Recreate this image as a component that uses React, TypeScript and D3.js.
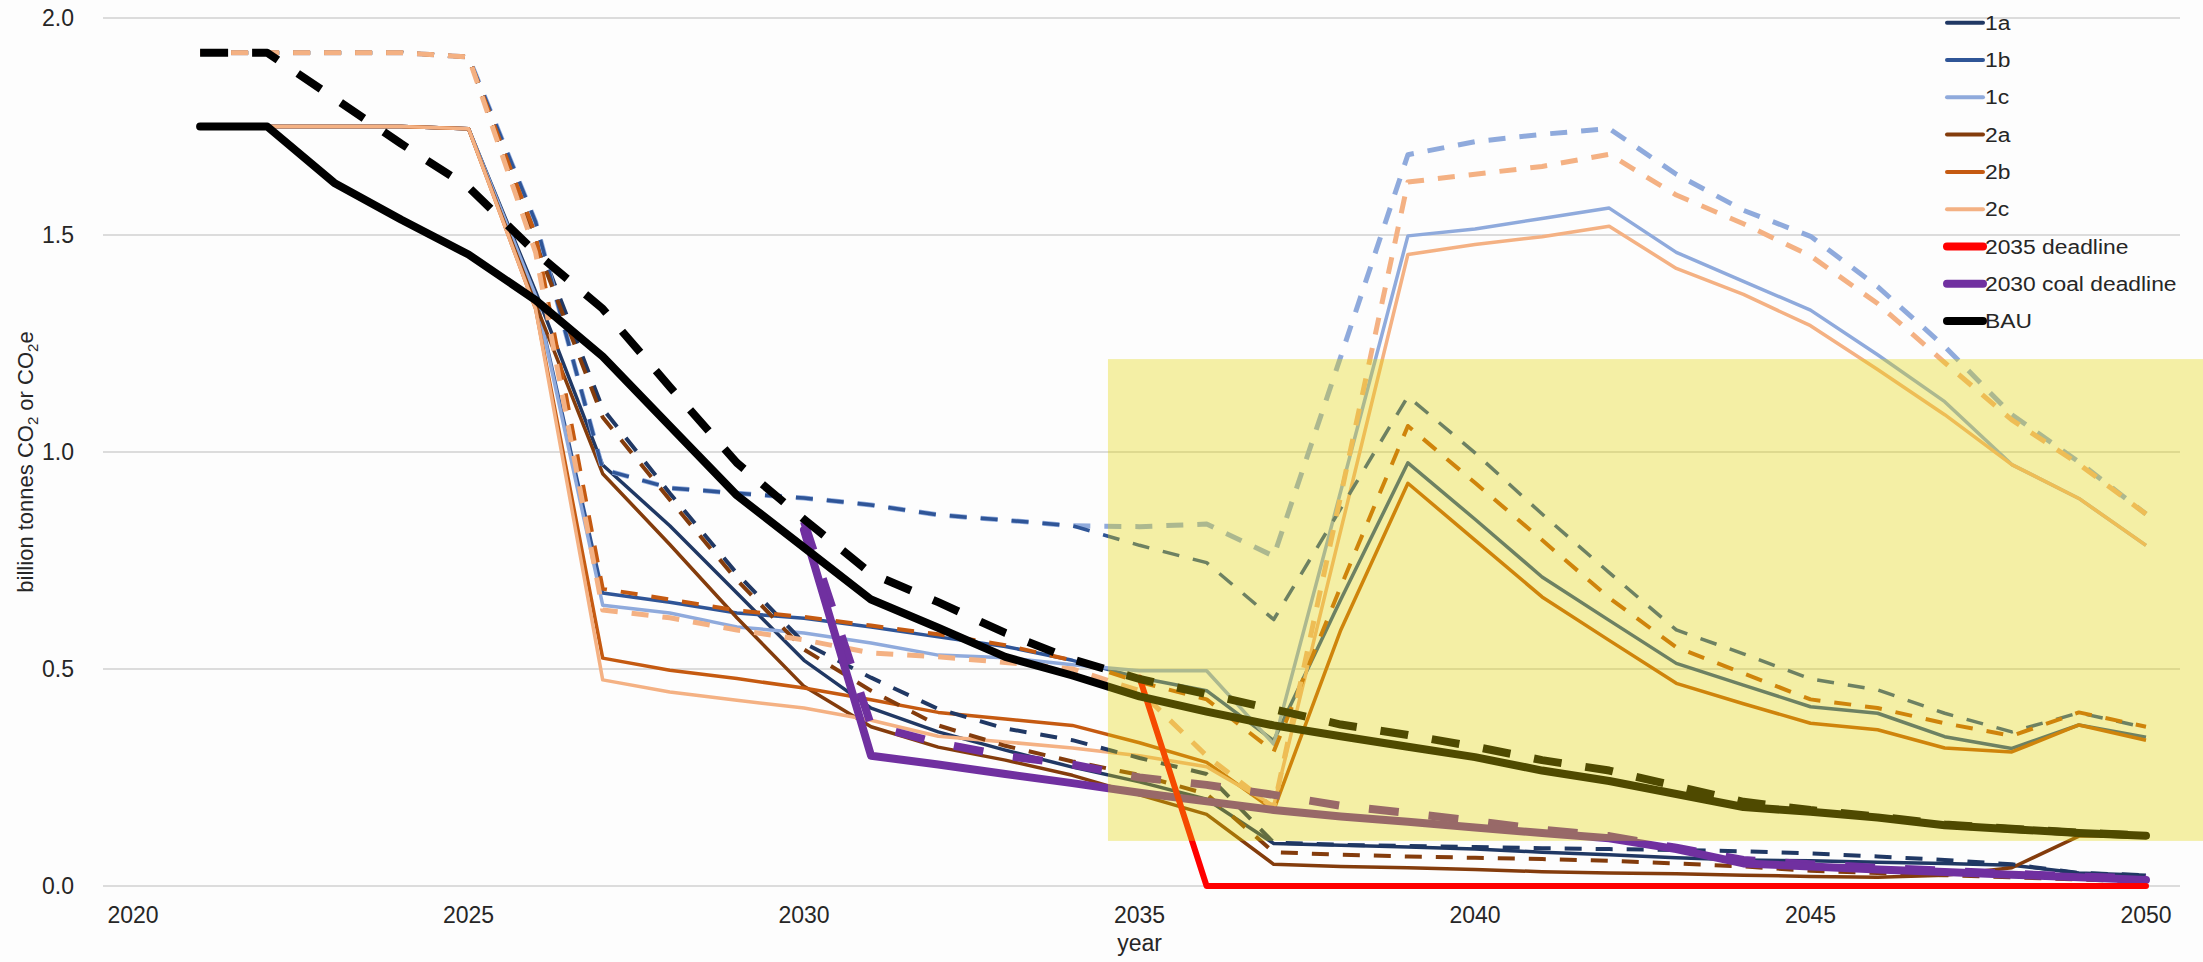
import React from "react";
import * as d3 from "d3";

// ---------------- data ----------------
const years = [2021,2022,2023,2024,2025,2026,2027,2028,2029,2030,2031,2032,2033,2034,2035,2036,2037,2038,2039,2040,2041,2042,2043,2044,2045,2046,2047,2048,2049,2050];

// solid scenario lines
const s1a = [1.75,1.75,1.75,1.75,1.745,1.37,0.97,0.83,0.675,0.52,0.41,0.355,0.313,0.274,0.24,0.2,0.098,0.094,0.09,0.085,0.078,0.072,0.065,0.06,0.058,0.055,0.052,0.048,0.03,0.025];
const s1b = [1.75,1.75,1.75,1.75,1.745,1.36,0.675,0.654,0.629,0.617,0.597,0.574,0.552,0.52,0.48,0.45,0.335,0.66,0.975,0.845,0.712,0.612,0.513,0.463,0.413,0.398,0.344,0.317,0.371,0.343];
const s1c = [1.75,1.75,1.75,1.75,1.745,1.36,0.647,0.629,0.597,0.583,0.56,0.532,0.526,0.51,0.496,0.496,0.327,0.91,1.498,1.514,1.538,1.562,1.46,1.393,1.327,1.224,1.116,0.971,0.893,0.785];
const s2a = [1.75,1.75,1.75,1.75,1.745,1.34,0.95,0.787,0.618,0.46,0.367,0.32,0.29,0.255,0.21,0.165,0.05,0.045,0.042,0.038,0.033,0.03,0.028,0.025,0.022,0.02,0.025,0.042,0.115,0.115];
const s2b = [1.75,1.75,1.75,1.75,1.745,1.33,0.525,0.497,0.478,0.456,0.429,0.40,0.385,0.37,0.33,0.285,0.175,0.59,0.928,0.797,0.666,0.566,0.467,0.42,0.375,0.36,0.318,0.309,0.371,0.336];
const s2c = [1.75,1.75,1.75,1.75,1.745,1.33,0.475,0.447,0.428,0.41,0.382,0.345,0.332,0.318,0.30,0.275,0.185,0.82,1.455,1.478,1.496,1.52,1.423,1.363,1.291,1.19,1.086,0.971,0.893,0.785];

// dashed scenario lines
const d1a = [1.92,1.92,1.92,1.92,1.91,1.50,1.10,0.905,0.72,0.56,0.48,0.408,0.363,0.336,0.295,0.258,0.10,0.095,0.092,0.09,0.087,0.085,0.083,0.08,0.075,0.068,0.06,0.05,0.03,0.025];
const d1b = [1.92,1.92,1.92,1.92,1.91,1.53,0.96,0.917,0.905,0.894,0.878,0.855,0.843,0.83,0.785,0.745,0.614,0.87,1.128,0.998,0.857,0.722,0.59,0.535,0.477,0.452,0.398,0.355,0.399,0.365];
const d1c = [1.92,1.92,1.92,1.92,1.91,1.53,0.96,0.917,0.905,0.894,0.878,0.855,0.843,0.83,0.828,0.834,0.76,1.22,1.685,1.715,1.732,1.745,1.64,1.557,1.497,1.381,1.243,1.086,0.977,0.857];
const d2a = [1.92,1.92,1.92,1.92,1.91,1.48,1.08,0.89,0.705,0.545,0.45,0.37,0.323,0.287,0.256,0.212,0.078,0.072,0.068,0.065,0.062,0.058,0.052,0.045,0.035,0.03,0.025,0.02,0.015,0.01];
const d2b = [1.92,1.92,1.92,1.92,1.91,1.50,0.685,0.66,0.635,0.62,0.60,0.58,0.555,0.52,0.47,0.43,0.31,0.69,1.06,0.929,0.797,0.664,0.55,0.49,0.43,0.41,0.375,0.346,0.40,0.367];
const d2c = [1.92,1.92,1.92,1.92,1.91,1.46,0.636,0.618,0.59,0.567,0.537,0.528,0.515,0.50,0.45,0.30,0.18,0.90,1.622,1.64,1.658,1.686,1.592,1.526,1.452,1.342,1.206,1.074,0.972,0.857];

const deadline2035 = [null,null,null,null,null,null,null,null,null,null,null,null,null,null,0.48,0,0,0,0,0,0,0,0,0,0,0,0,0,0,0];
const coal2030 = [null,null,null,null,null,null,null,null,null,0.82,0.30,0.28,0.258,0.237,0.215,0.195,0.175,0.16,0.148,0.135,0.122,0.11,0.085,0.052,0.045,0.038,0.032,0.026,0.02,0.014];
const coal2030d = [null,null,null,null,null,null,null,null,null,0.84,0.37,0.33,0.30,0.28,0.25,0.233,0.21,0.185,0.168,0.15,0.13,0.115,0.088,0.06,0.05,0.042,0.035,0.028,0.022,0.017];

const bau = [1.75,1.75,1.62,1.535,1.455,1.35,1.22,1.06,0.90,0.78,0.66,0.595,0.528,0.485,0.437,0.402,0.37,0.345,0.321,0.297,0.266,0.242,0.212,0.182,0.171,0.158,0.14,0.131,0.122,0.116];
const bauD = [1.92,1.92,1.815,1.71,1.61,1.46,1.33,1.15,0.975,0.845,0.72,0.654,0.583,0.522,0.477,0.442,0.407,0.372,0.348,0.321,0.29,0.266,0.23,0.194,0.175,0.16,0.142,0.132,0.123,0.116];

const xTicks = [2020, 2025, 2030, 2035, 2040, 2045, 2050];
const yTicks = [0, 0.5, 1.0, 1.5, 2.0];

const legendNames = ["1a", "1b", "1c", "2a", "2b", "2c", "2035 deadline", "2030 coal deadline", "BAU"];

// highlighted box (data coordinates)
const boxYears = [2034.53, 2051.1];
const boxValues = [0.104, 1.214];

// ---------------- styling ----------------
const C = {
  a1: "#203864",
  b1: "#2F5597",
  c1: "#8FAADC",
  a2: "#843C0C",
  b2: "#C55A11",
  c2: "#F4B183",
  red: "#FF0000",
  purple: "#7030A0",
  bau: "#000000",
};

type S = { data: (number | null)[]; color: string; width: number; dash?: string; cap?: string };

const series: S[] = [
  { data: s1a, color: C.a1, width: 3.5 },
  { data: s1b, color: C.b1, width: 3.5 },
  { data: s1c, color: C.c1, width: 3.5 },
  { data: s2a, color: C.a2, width: 3.5 },
  { data: s2b, color: C.b2, width: 3.5 },
  { data: s2c, color: C.c2, width: 3.5 },
  { data: d1a, color: C.a1, width: 4, dash: "17 14" },
  { data: d1c, color: C.c1, width: 5, dash: "17 14" },
  { data: d1b, color: C.b1, width: 3.5, dash: "17 14" },
  { data: d2a, color: C.a2, width: 4, dash: "17 14" },
  { data: d2b, color: C.b2, width: 4, dash: "17 14" },
  { data: d2c, color: C.c2, width: 5, dash: "17 14" },
  { data: coal2030d, color: C.purple, width: 8, dash: "30 30" },
  { data: coal2030, color: C.purple, width: 8, cap: "round" },
  { data: deadline2035, color: C.red, width: 6, cap: "round" },
  { data: bauD, color: C.bau, width: 8, dash: "28 24" },
  { data: bau, color: C.bau, width: 8, cap: "round" },
];

const legendStyle = [
  { color: C.a1, width: 4 },
  { color: C.b1, width: 4 },
  { color: C.c1, width: 4 },
  { color: C.a2, width: 4 },
  { color: C.b2, width: 4 },
  { color: C.c2, width: 4 },
  { color: C.red, width: 8 },
  { color: C.purple, width: 8 },
  { color: C.bau, width: 8 },
];

const W = 2203;
const H = 962;
const FONT = "'Liberation Sans', Arial, sans-serif";

export default function App() {
  const x = d3.scaleLinear().domain([2020, 2050]).range([133, 2146]);
  const y = d3.scaleLinear().domain([0, 2]).range([886, 18]);

  const line = (data: (number | null)[]) =>
    d3
      .line<number | null>()
      .defined((d) => d !== null)
      .x((_, i) => x(years[i]))
      .y((d) => y(d as number))(data) || "";

  const gridX0 = 103;
  const gridX1 = 2180;

  return (
    <svg
      width={W}
      height={H}
      style={{ position: "absolute", left: 0, top: 0, background: "#fdfdfd" }}
      fontFamily={FONT}
    >
      <rect x={0} y={0} width={W} height={H} fill="#fdfdfd" />
      {/* gridlines */}
      {yTicks.map((t) => (
        <line key={"g" + t} x1={gridX0} x2={gridX1} y1={y(t)} y2={y(t)} stroke="#dcdcdc" strokeWidth={2} />
      ))}
      {/* y tick labels */}
      {yTicks.map((t) => (
        <text key={"yl" + t} x={74} y={y(t) + 8} fontSize={23} textAnchor="end" fill="#262626">
          {d3.format(".1f")(t)}
        </text>
      ))}
      {/* x tick labels */}
      {xTicks.map((t) => (
        <text key={"xl" + t} x={x(t)} y={923} fontSize={23} textAnchor="middle" fill="#262626">
          {t}
        </text>
      ))}
      <text x={x(2035)} y={951} fontSize={23} textAnchor="middle" fill="#262626">
        year
      </text>
      <text transform={`translate(33,${462}) rotate(-90)`} fontSize={22} textAnchor="middle" fill="#262626">
        billion tonnes CO<tspan fontSize={15} dy={5}>2</tspan>
        <tspan dy={-5}> or CO</tspan>
        <tspan fontSize={15} dy={5}>2</tspan>
        <tspan dy={-5}>e</tspan>
      </text>

      {/* series */}
      {series.map((s, i) => (
        <path
          key={"s" + i}
          d={line(s.data)}
          fill="none"
          stroke={s.color}
          strokeWidth={s.width}
          strokeDasharray={s.dash}
          strokeLinejoin="round"
          strokeLinecap={(s.cap as any) || "butt"}
        />
      ))}

      {/* highlight box */}
      <rect
        x={x(boxYears[0])}
        y={y(boxValues[1])}
        width={W - x(boxYears[0])}
        height={y(boxValues[0]) - y(boxValues[1])}
        fill="rgb(227,212,0)"
        fillOpacity={0.35}
      />

      {/* legend */}
      {legendNames.map((n, i) => {
        const ly = 22.7 + i * 37.3;
        const st = legendStyle[i];
        return (
          <g key={"lg" + i}>
            <line
              x1={1947}
              x2={1983}
              y1={ly}
              y2={ly}
              stroke={st.color}
              strokeWidth={st.width}
              strokeLinecap="round"
            />
            <g transform={`translate(1985,${ly + 7}) scale(1.17,1)`}>
              <text x={0} y={0} fontSize={19.5} fill="#262626">
                {n}
              </text>
            </g>
          </g>
        );
      })}
    </svg>
  );
}
